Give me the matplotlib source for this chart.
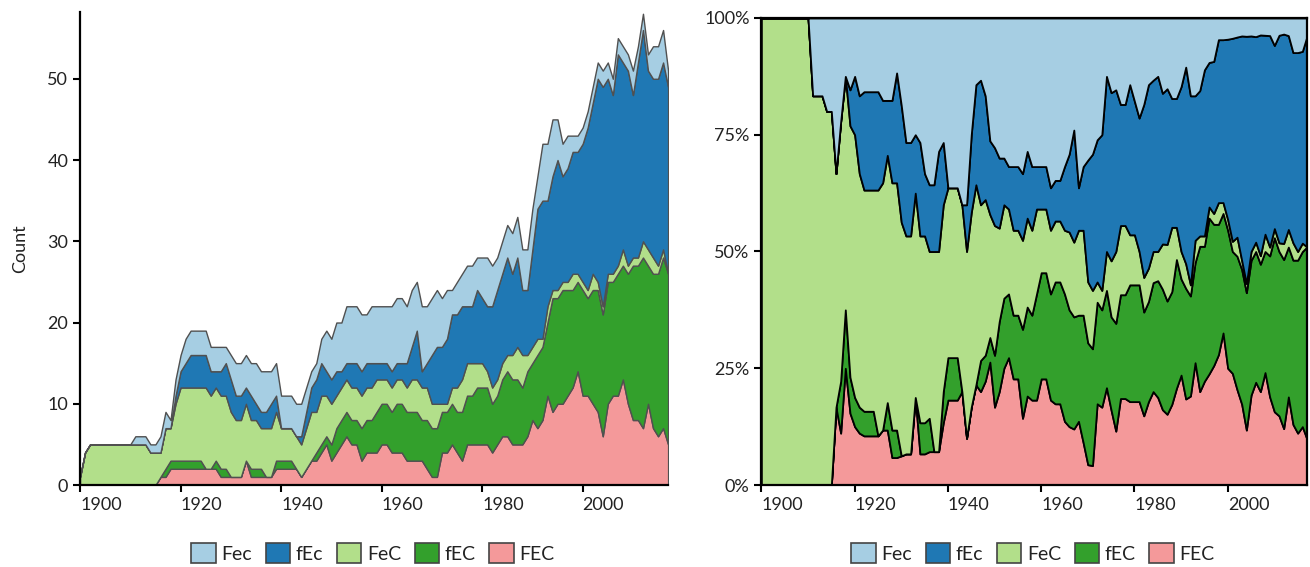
import numpy as np
import matplotlib
matplotlib.use("Agg")
import matplotlib.pyplot as plt
from matplotlib.patches import Patch
from matplotlib.ticker import FuncFormatter

plt.rcParams["font.family"] = ["Lato", "DejaVu Sans"]

years = list(range(1900, 2018))

# yearly counts, bottom layer first
FEC = [0, 0, 0, 0, 0, 0, 0, 0, 0, 0,
       0, 0, 0, 0, 0, 0, 1, 1, 2, 2,
       2, 2, 2, 2, 2, 2, 2, 2, 1, 1,
       1, 1, 1, 3, 1, 1, 1, 1, 1, 2,
       2, 2, 2, 2, 1, 2, 3, 3, 4, 5,
       3, 4, 5, 6, 5, 5, 3, 4, 4, 4,
       5, 5, 4, 4, 4, 3, 3, 3, 3, 2,
       1, 1, 4, 4, 5, 4, 3, 5, 5, 5,
       5, 5, 4, 5, 6, 6, 5, 5, 5, 6,
       8, 7, 8, 11, 9, 10, 10, 11, 12, 14,
       11, 11, 10, 9, 6, 10, 11, 11, 13, 10,
       8, 8, 7, 10, 7, 6, 7, 5]
fEC = [0, 0, 0, 0, 0, 0, 0, 0, 0, 0,
       0, 0, 0, 0, 0, 0, 0, 1, 1, 1,
       1, 1, 1, 1, 1, 0, 0, 1, 1, 1,
       0, 0, 0, 0, 1, 1, 1, 0, 0, 1,
       1, 1, 1, 0, 0, 0, 0, 1, 1, 1,
       2, 3, 3, 3, 3, 3, 4, 4, 4, 5,
       5, 5, 5, 6, 6, 6, 6, 6, 5, 6,
       6, 6, 5, 5, 5, 5, 6, 6, 6, 7,
       7, 7, 6, 6, 7, 8, 8, 8, 7, 8,
       7, 9, 9, 9, 14, 13, 14, 13, 12, 11,
       13, 12, 14, 15, 15, 15, 14, 15, 14, 16,
       19, 19, 21, 17, 19, 20, 21, 21]
FeC = [1, 4, 5, 5, 5, 5, 5, 5, 5, 5,
       5, 5, 5, 5, 4, 4, 3, 5, 4, 7,
       9, 9, 9, 9, 9, 10, 9, 9, 9, 9,
       8, 7, 7, 7, 6, 6, 5, 6, 6, 6,
       4, 4, 4, 4, 4, 5, 6, 5, 6, 5,
       5, 4, 4, 4, 4, 4, 4, 4, 4, 4,
       3, 3, 3, 3, 3, 3, 4, 4, 4, 4,
       3, 3, 1, 1, 2, 3, 4, 4, 4, 3,
       3, 2, 2, 2, 2, 2, 3, 4, 4, 2,
       2, 2, 1, 2, 1, 1, 1, 1, 2, 1,
       1, 1, 2, 1, 1, 1, 1, 1, 2, 1,
       1, 1, 2, 2, 2, 1, 1, 0]
fEc = [0, 0, 0, 0, 0, 0, 0, 0, 0, 0,
       0, 0, 0, 0, 0, 0, 0, 0, 0, 1,
       2, 3, 4, 4, 4, 4, 3, 2, 3, 4,
       4, 3, 3, 2, 3, 2, 2, 2, 3, 2,
       0, 0, 0, 0, 1, 2, 3, 4, 4, 3,
       3, 3, 2, 2, 3, 3, 3, 3, 3, 2,
       2, 2, 2, 2, 2, 3, 4, 6, 2, 3,
       6, 7, 7, 8, 9, 9, 9, 7, 7, 9,
       8, 8, 10, 11, 11, 12, 10, 11, 8, 8,
       12, 16, 17, 13, 14, 16, 13, 14, 15, 15,
       17, 20, 21, 25, 27, 24, 22, 26, 23, 24,
       20, 24, 26, 22, 22, 23, 23, 23]
Fec = [0, 0, 0, 0, 0, 0, 0, 0, 0, 0,
       0, 1, 1, 1, 1, 1, 2, 2, 1, 2,
       2, 3, 3, 3, 3, 3, 3, 3, 3, 2,
       3, 4, 4, 4, 4, 5, 5, 5, 4, 4,
       4, 4, 4, 4, 4, 3, 2, 2, 3, 5,
       5, 6, 6, 7, 7, 7, 7, 6, 7, 7,
       7, 7, 8, 8, 8, 7, 7, 6, 8, 7,
       7, 7, 6, 6, 3, 4, 4, 5, 5, 4,
       5, 6, 5, 4, 4, 4, 5, 5, 5, 5,
       5, 4, 7, 7, 7, 5, 4, 4, 2, 2,
       2, 2, 2, 2, 2, 2, 2, 2, 2, 2,
       3, 2, 2, 2, 4, 4, 4, 2]

labels = ["FEC", "fEC", "FeC", "fEc", "Fec"]
colors = ["#f4999a", "#33a02c", "#b2df8a", "#1f78b4", "#a6cee3"]

counts = np.array([FEC, fEC, FeC, fEc, Fec], dtype=float)
shares = counts / counts.sum(axis=0)

fig = plt.figure(figsize=(13.1, 5.67), dpi=100)
ax1 = fig.add_axes([0.0611, 0.1446, 0.4489, 0.834])
ax2 = fig.add_axes([0.5812, 0.1446, 0.4165, 0.8237])

# left: counts
ax1.stackplot(years, counts, colors=colors, edgecolor="#505050", linewidth=1.0)
ax1.set_xlim(1900, 2017)
ax1.set_ylim(0, 58.2)
ax1.set_yticks([0, 10, 20, 30, 40, 50])
ax1.set_ylabel("Count", fontsize=13, color="#222222", labelpad=14)
ax1.spines["top"].set_visible(False)
ax1.spines["right"].set_visible(False)
for s in ["left", "bottom"]:
    ax1.spines[s].set_linewidth(1.6)

# right: shares
ax2.stackplot(years, shares, colors=colors, edgecolor="black", linewidth=1.3)
ax2.set_xlim(1900, 2017)
ax2.set_ylim(0, 1)
ax2.set_yticks([0, 0.25, 0.5, 0.75, 1.0])
ax2.yaxis.set_major_formatter(FuncFormatter(lambda v, p: f"{v * 100:.0f}%"))
for s in ax2.spines.values():
    s.set_linewidth(1.6)

for ax in (ax1, ax2):
    ax.set_xticks([1900, 1920, 1940, 1960, 1980, 2000])
    ax.tick_params(axis="both", direction="out", length=5, width=1.5,
                   labelsize=13, labelcolor="#222222")
    for lab in ax.get_xticklabels():
        lab.set_horizontalalignment("left")

handles = [Patch(facecolor=c, edgecolor="#444444", linewidth=1.2, label=l)
           for l, c in zip(labels, colors)][::-1]
for cx in (373 / 1310, 1033 / 1310):
    fig.legend(handles=handles, loc="center", bbox_to_anchor=(cx, 1 - 553 / 567),
               ncol=5, frameon=False, fontsize=14, handlelength=1.25,
               handleheight=1.2, handletextpad=0.3, columnspacing=0.7,
               labelcolor="#222222")

fig.savefig("out.png", dpi=100)
